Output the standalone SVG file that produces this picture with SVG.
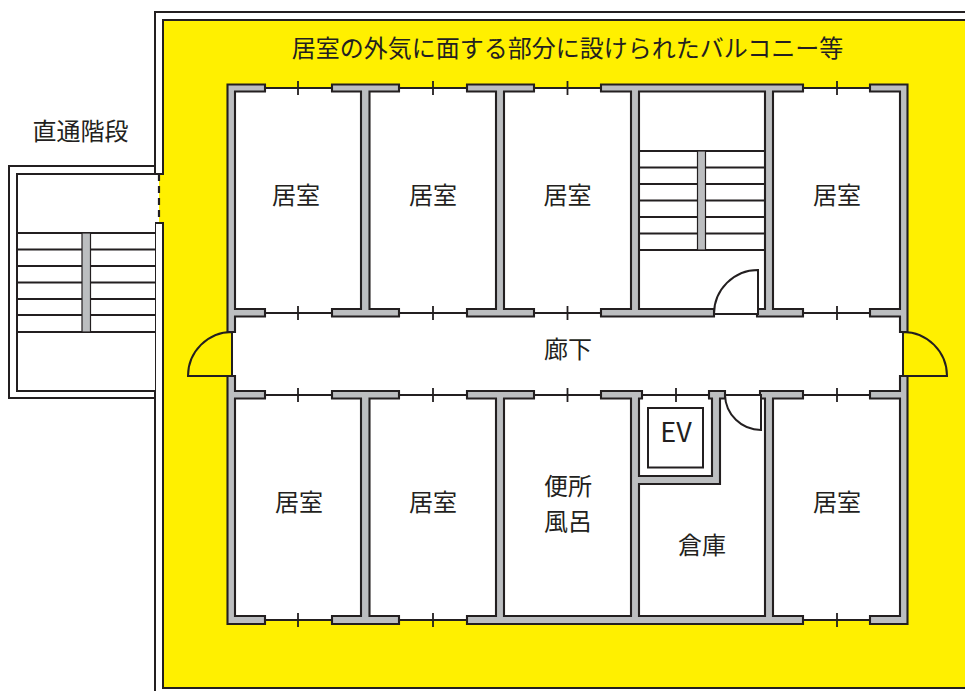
<svg xmlns="http://www.w3.org/2000/svg" width="965" height="691" viewBox="0 0 965 691">
<style>
.l{fill:none;stroke:#231f20;stroke-width:2}
.t{fill:none;stroke:#231f20;stroke-width:1.8}
.w{fill:#bcbec0;stroke:#231f20;stroke-width:2.100;stroke-linejoin:miter}
.b{fill:#bcbec0;stroke:#231f20;stroke-width:1.200}
text{font-family:"Noto Sans CJK JP","Noto Sans",sans-serif;font-size:24px;fill:#231f20;text-anchor:middle}
</style>
<rect width="965" height="691" fill="#fff"/>
<g id="balcony">
<path d="M965 20H163V174H159V223H163V688H965Z" fill="#fff000"/>
<path class="l" d="M965 20H163V174H155V12H965M155 691V223H163V688H965"/>
<path d="M159 174V223" fill="none" stroke="#231f20" stroke-width="2.200" stroke-dasharray="7 5"/>
</g>
<g id="stair-outside">
<rect x="17" y="174" width="138" height="217" fill="#fff"/>
<path class="l" d="M155 166H9V398H155M155 174H17V391H155"/>
<path class="t" d="M17 233H155M17 249.500H155M17 266H155M17 282.500H155M17 299H155M17 315H155M17 332H155"/>
<rect class="b" x="82" y="233" width="8.500" height="99"/>
</g>
<g id="interior">
<rect x="235" y="88" width="665" height="532" fill="#fff"/>
<rect x="232" y="332" width="671" height="44" fill="#fff"/>
</g>
<g id="windows">
<path class="t" d="M265 88H332M399 88H467M534 88H601M803 88H870M265 313H332M399 313H467M534 313H601M803 313H870M265 395H332M399 395H467M534 395H601M642 395H709M803 395H870M265 620H332M399 620H467M803 620H870"/>
<path class="t" d="M298 81V95M433 81V95M567.500 81V95M837 81V95M298 306V320M433 306V320M567.500 306V320M837 306V320M298 388V402M433 388V402M567.500 388V402M676 388V402M837 388V402M298 613V627M433 613V627M837 613V627"/>
</g>
<g id="stair-inside">
<path class="t" d="M639 151H765M639 167.500H765M639 184H765M639 200.500H765M639 217H765M639 233.500H765M639 250H765"/>
<rect class="b" x="697.500" y="151" width="8" height="99"/>
</g>
<g id="walls">
<path class="w" d="M227.500 84.500H265V91.500H235V309H265V316.500H235V332H227.500Z"/>
<path class="w" d="M332 84.500H399V91.500H369.500V309H399V316.500H332V309H361V91.500H332Z"/>
<path class="w" d="M467 84.500H534V91.500H504V309H534V316.500H467V309H496V91.500H467Z"/>
<path class="w" d="M601 84.500H803V91.500H773V309H803V316.500H757V309H765V91.500H639V309H714V316.500H601V309H631V91.500H601Z"/>
<path class="w" d="M907.500 84.500H870V91.500H900V309H870V316.500H900V332H907.500Z"/>
<path class="w" d="M227.500 376H235V391H265V398.500H235V616H265V624H227.500Z"/>
<path class="w" d="M332 391H399V398.500H369.500V616H399V624H332V616H361V398.500H332Z"/>
<path class="w" d="M467 391H534V398.500H504V616H631V398.500H601V391H642V398.500H639V476H712V398.500H709V391H725V398.500H720V484H639V616H765V398.500H760V391H803V398.500H773V616H803V624H467V616H496V398.500H467Z"/>
<path class="w" d="M907.500 376H900V391H870V398.500H900V616H870V624H907.500Z"/>
</g>
<g id="doors">
<path class="l" d="M232 332A44 44 0 0 0 188 376H232Z" style="fill:#fff000"/>
<path class="l" d="M903 332A44 44 0 0 1 947 376H903Z" style="fill:#fff000"/>
<path class="l" d="M758 270A44 44 0 0 0 714 314H758Z" style="fill:#fff"/>
<path class="l" d="M725 395H761V430A36 36 0 0 1 725 395Z" style="fill:#fff"/>
</g>
<g id="ev"><rect class="l" x="648" y="408" width="55" height="59.500"/><text x="676" y="441.500" style="font-size:27px">EV</text></g>
<g id="labels">
<text x="567.500" y="56.500">居室の外気に面する部分に設けられたバルコニー等</text>
<text x="80.500" y="139.500">直通階段</text>
<text x="296" y="203.500">居室</text>
<text x="433" y="203.500">居室</text>
<text x="567.500" y="203.500">居室</text>
<text x="837" y="203.500">居室</text>
<text x="568" y="357.500">廊下</text>
<text x="299" y="511">居室</text>
<text x="433" y="511">居室</text>
<text x="837" y="511">居室</text>
<text x="568" y="494.500">便所</text>
<text x="568" y="529.500">風呂</text>
<text x="702" y="554">倉庫</text>
</g>
</svg>
